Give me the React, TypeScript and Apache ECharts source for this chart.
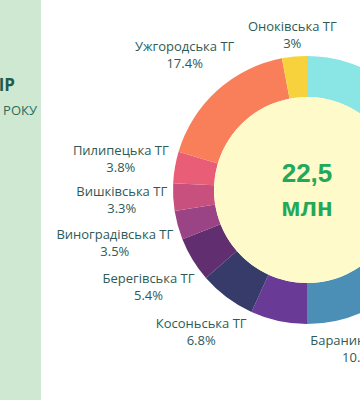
import React, { useEffect, useRef } from "react";
import * as echarts from "echarts";

// Slices in clockwise order starting from 12 o'clock
const sliceNames = [
  "Інші громади",
  "Баранинська ТГ",
  "Інша ТГ",
  "Косоньська ТГ",
  "Берегівська ТГ",
  "Виноградівська ТГ",
  "Вишківська ТГ",
  "Пилипецька ТГ",
  "Ужгородська ТГ",
  "Оноківська ТГ",
];
const sliceValues = [39.7, 10.3, 6.8, 6.8, 5.4, 3.5, 3.3, 3.8, 17.4, 3];
const sliceLabelShown = [false, true, false, true, true, true, true, true, true, true];
const sliceColors = [
  "#8AE5E5",
  "#4B8EB6",
  "#6A3A97",
  "#363B6A",
  "#612F70",
  "#9A4485",
  "#C7507E",
  "#E95E76",
  "#F97F5B",
  "#F8D23D",
];
const centerValue = "22,5";
const centerUnit = "млн";
const panelTitle = "ІР";
const panelSubtitle = "РОКУ";

const CX = 307;
const CY = 190;
const R_OUT = 134;
const R_IN = 93;

export default function App() {
  const ref = useRef<HTMLDivElement>(null);
  useEffect(() => {
    if (!ref.current) return;
    const chart = echarts.init(ref.current, undefined, { renderer: "svg" });
    const total = sliceValues.reduce((a, b) => a + b, 0);
    const mids: number[] = [];
    let acc = 0;
    for (const v of sliceValues) {
      mids.push(((acc + v / 2) / total) * Math.PI * 2);
      acc += v;
    }
    chart.setOption({
      animation: false,
      graphic: [
        {
          type: "rect",
          shape: { x: 0, y: 0, width: 41, height: 400 },
          style: { fill: "#CFE8D2" },
          z: 0,
        },
        {
          type: "text",
          x: 15,
          y: 84,
          style: {
            text: panelTitle,
            fill: "#1F5C4A",
            font: "bold 17px 'Open Sans'",
            textAlign: "right",
            textVerticalAlign: "middle",
          },
        },
        {
          type: "text",
          x: 37,
          y: 110,
          style: {
            text: panelSubtitle,
            fill: "#2F6B5A",
            font: "13px 'Open Sans'",
            textAlign: "right",
            textVerticalAlign: "middle",
          },
        },
      ],
      series: [
        {
          type: "pie",
          center: [CX, CY],
          radius: [R_IN, R_OUT],
          startAngle: 90,
          clockwise: true,
          avoidLabelOverlap: false,
          silent: true,
          itemStyle: { borderWidth: 0 },
          label: {
            show: true,
            position: "outside",
            color: "#2E5B57",
            fontFamily: "'Open Sans'",
            fontSize: 13,
            lineHeight: 17,
            formatter: (p: any) => `${p.name}\n${p.value}%`,
          },
          labelLine: { show: false },
          labelLayout: (p: any) => {
            const th = mids[p.dataIndex];
            const ux = Math.sin(th);
            const uy = -Math.cos(th);
            const w = p.labelRect.width;
            const h = p.labelRect.height;
            const d = R_OUT + 5.5 + (Math.abs(ux) * w) / 2 + Math.abs(uy) * h * 0.38;
            return {
              x: CX + ux * d,
              y: CY + uy * d,
              align: "center",
              verticalAlign: "middle",
            };
          },
          data: sliceNames.map((n, i) => ({
            name: n,
            value: sliceValues[i],
            itemStyle: { color: sliceColors[i] },
            label: { show: sliceLabelShown[i] },
          })),
        },
        {
          type: "pie",
          center: [CX, CY],
          radius: [0, R_IN],
          silent: true,
          label: {
            show: true,
            position: "center",
            formatter: `{v|${centerValue}}\n{u|${centerUnit}}`,
            rich: {
              v: {
                fontFamily: "'Liberation Sans'",
                fontWeight: "bold",
                fontSize: 26,
                color: "#22A85A",
                lineHeight: 34,
              },
              u: {
                fontFamily: "'Liberation Sans'",
                fontWeight: "bold",
                fontSize: 26,
                color: "#22A85A",
                lineHeight: 34,
              },
            },
          },
          labelLine: { show: false },
          data: [{ name: "total", value: 1, itemStyle: { color: "#FEFAC9" } }],
        },
      ],
    });
    return () => chart.dispose();
  }, []);
  return (
    <div
      ref={ref}
      style={{ position: "absolute", left: 0, top: 0, width: 360, height: 400, background: "#fff" }}
    />
  );
}
